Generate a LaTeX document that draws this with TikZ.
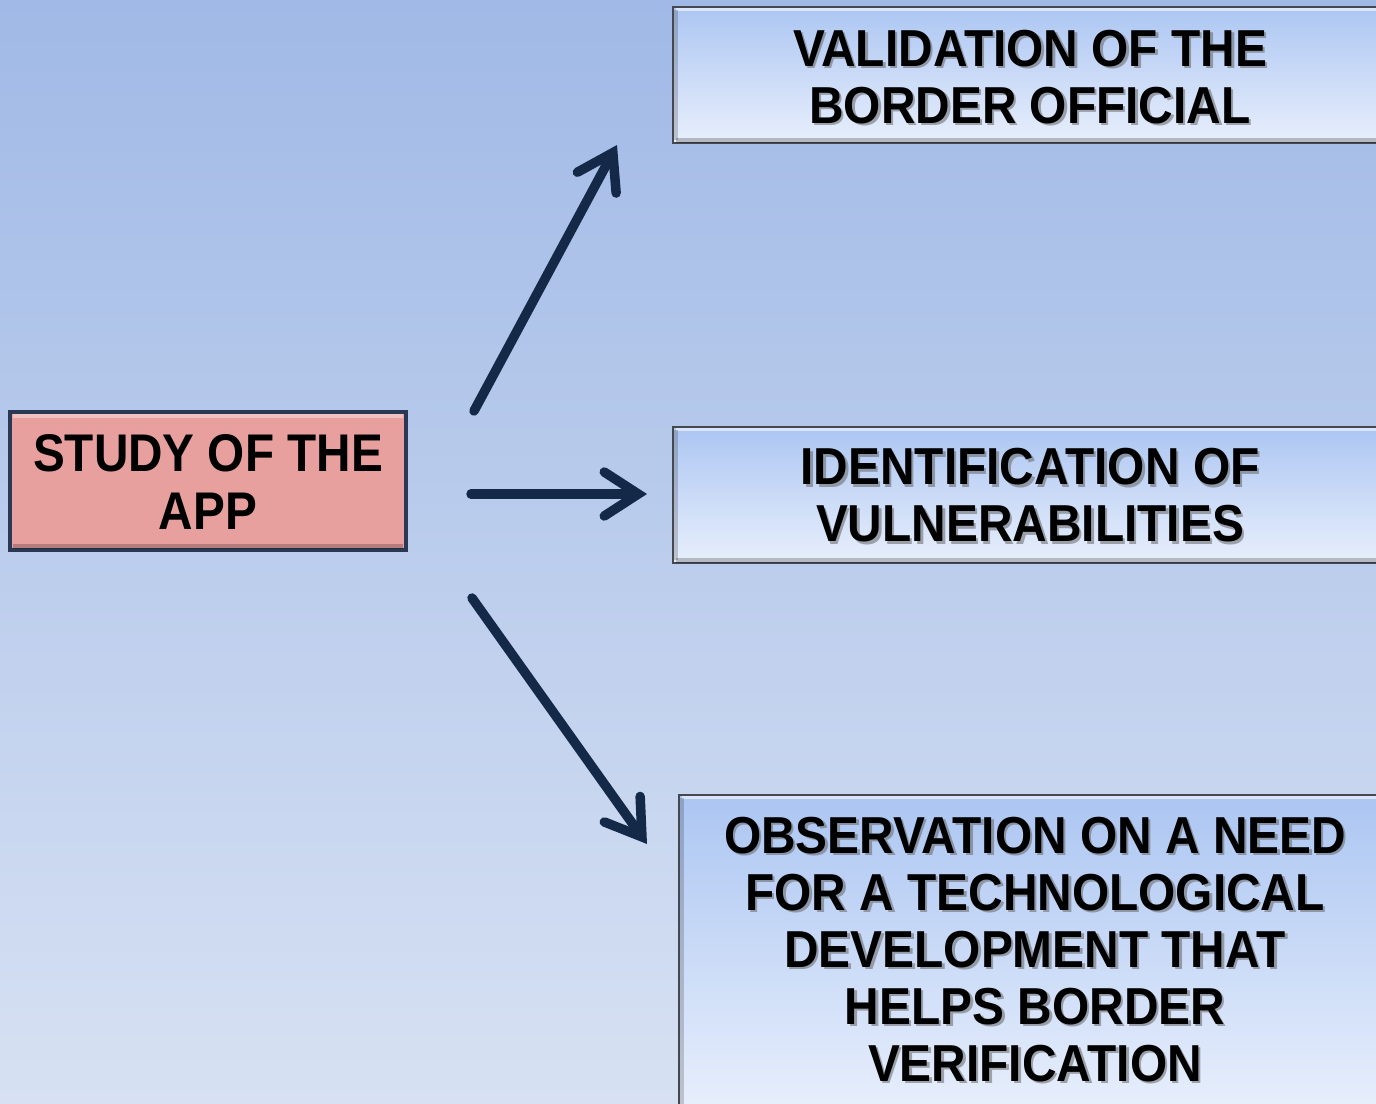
\documentclass[tikz,border=0pt]{standalone}
\usepackage{fontspec}
\setmainfont{Liberation Sans}
\newfontfamily\boxfont[FakeStretch=0.92]{Liberation Sans}
\newfontfamily\pinkfont[FakeStretch=0.9]{Liberation Sans}
\usetikzlibrary{arrows.meta}
\definecolor{bgtop}{RGB}{160,185,230}
\definecolor{bgbot}{RGB}{215,225,243}
\definecolor{bluetop}{RGB}{172,198,242}
\definecolor{bluebot}{RGB}{232,239,252}
\definecolor{boxedge}{RGB}{70,72,80}
\definecolor{pinkfill}{RGB}{231,160,158}
\definecolor{pinkedge}{RGB}{42,55,85}
\definecolor{arrowcol}{RGB}{20,40,72}
\tikzset{
  bluebox/.style={rectangle, draw=boxedge, line width=2.5pt, top color=bluetop, bottom color=bluebot, inner sep=0pt},
  pinkbox/.style={rectangle, draw=pinkedge, line width=3.5pt, fill=pinkfill, inner sep=0pt},
  boxtext/.style={align=center, font=\boxfont\bfseries\fontsize{52}{57}\selectfont, text=black, inner sep=0pt},
  boxshadow/.style={boxtext, text=black!60, opacity=0.55},
  pinktext/.style={align=center, font=\pinkfont\bfseries\fontsize{53}{58}\selectfont, text=black, inner sep=0pt},
  flow/.style={draw=arrowcol, line width=9.5pt, line cap=round,
    -{Straight Barb[length=34pt,width=44pt,line cap=round,line join=miter]}},
  hilite/.style={draw=white, opacity=0.55, line width=3pt},
  lowlite/.style={draw=black, opacity=0.22, line width=5pt},
}
\begin{document}
\begin{tikzpicture}[x=1pt,y=-1pt]
\useasboundingbox (0,0) rectangle (1376,1103);
\shade[top color=bgtop, bottom color=bgbot] (0,0) rectangle (1376,1103);

% source box
\node[pinkbox, minimum width=396pt, minimum height=138pt] (study) at (208,481) {};
\draw[draw=white, opacity=0.35, line width=4pt] ([shift={(5pt,-6pt)}]study.north west) -- ([shift={(-5pt,-6pt)}]study.north east);
\draw[lowlite] ([shift={(5pt,5pt)}]study.south west) -- ([shift={(-5pt,5pt)}]study.south east);
\node[pinktext] (studytext) at (208,481.5) {STUDY OF THE\\APP};

% target boxes
\node[bluebox, minimum width=707pt, minimum height=136pt] (val) at (1026.5,75) {};
\node[bluebox, minimum width=707pt, minimum height=136pt] (vul) at (1026.5,495) {};
\node[bluebox, minimum width=701pt, minimum height=316pt] (obs) at (1029.5,953) {};
\foreach \b in {val,vul,obs}{
  \draw[hilite] ([shift={(4pt,-4pt)}]\b.north west) -- ([shift={(-4pt,-4pt)}]\b.north east);
  \draw[lowlite] ([shift={(4pt,4pt)}]\b.south west) -- ([shift={(-4pt,4pt)}]\b.south east);
  \draw[draw=black, opacity=0.18, line width=4pt] ([shift={(4pt,-4pt)}]\b.north west) -- ([shift={(4pt,4pt)}]\b.south west);
}

\node[boxshadow] (valsh) at (1032.5,79.5) {VALIDATION OF THE\\BORDER OFFICIAL};
\node[boxtext] (valtext) at (1030,77) {VALIDATION OF THE\\BORDER OFFICIAL};
\node[boxshadow] (vulsh) at (1032.5,498) {IDENTIFICATION OF\\VULNERABILITIES};
\node[boxtext] (vultext) at (1030,495.5) {IDENTIFICATION OF\\VULNERABILITIES};
\node[boxshadow] (obssh) at (1037.5,952) {OBSERVATION ON A NEED\\FOR A TECHNOLOGICAL\\DEVELOPMENT THAT\\HELPS BORDER\\VERIFICATION};
\node[boxtext] (obstext) at (1035,949.5) {OBSERVATION ON A NEED\\FOR A TECHNOLOGICAL\\DEVELOPMENT THAT\\HELPS BORDER\\VERIFICATION};

% arrows
\coordinate (s1) at (474,411);
\coordinate (e1) at (617,145);
\coordinate (s2) at (471,494);
\coordinate (e2) at (647,494);
\coordinate (s3) at (472,598);
\coordinate (e3) at (647,844);
\draw[flow] (s1) -- (e1);
\draw[flow] (s2) -- (e2);
\draw[flow] (s3) -- (e3);
\end{tikzpicture}
\end{document}
